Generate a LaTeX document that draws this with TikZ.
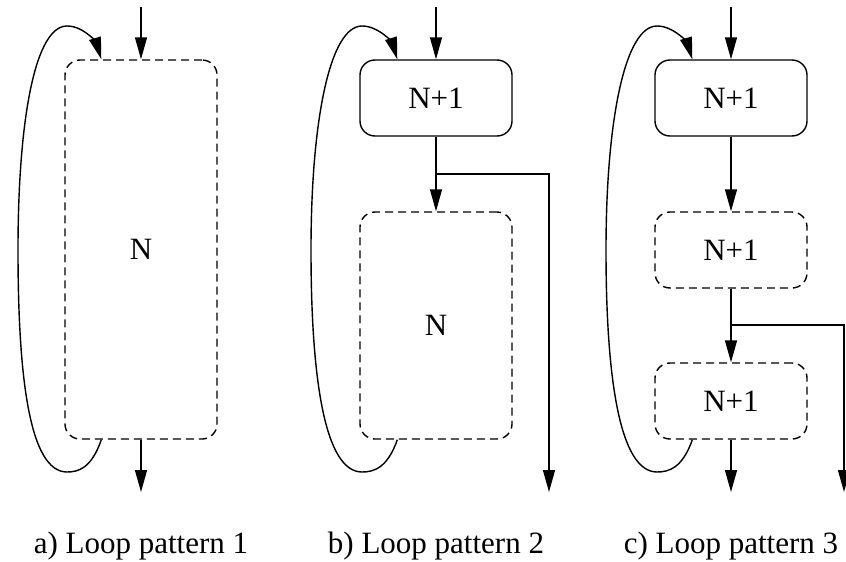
\documentclass[tikz,border=0pt]{standalone}
\usepackage{fontspec}
\setmainfont{Liberation Serif}
\usetikzlibrary{arrows.meta,calc}
\begin{document}
\begin{tikzpicture}[x=1pt,y=-1pt,
  line width=1.4pt,
  every node/.style={font=\fontsize{31}{36}\selectfont},
  solidbox/.style={draw,rounded corners=15pt,minimum width=152pt,minimum height=76pt,inner sep=0pt},
  dashbox/.style={draw,dash pattern=on 8pt off 5pt,rounded corners=15pt,minimum width=152pt,inner sep=0pt},
  arr/.style={-{Triangle[length=22pt,width=12pt]}},
  caption/.style={anchor=base}
]
\useasboundingbox (0,0) rectangle (846,562);

% ---------- a) ----------
\node[dashbox,minimum height=379pt] (aN) at (141,249.5) {N};
\coordinate (ain) at (141,7);
\coordinate (aout) at (141,492);
\draw[arr] (ain) -- (aN.north);
\draw[arr] (aN.south) -- (aout);
\draw[arr] ([xshift=37pt]aN.south west) .. controls +(-10,29) and (78,472) .. (67,472)
  .. controls (30,472) and (18,380) .. (18,250)
  .. controls (18,120) and (35,26) .. (67,26)
  .. controls (85,26) and (97,45) .. ([xshift=37pt]aN.north west);
\node[caption] (acap) at (141,553) {a) Loop pattern 1};

% ---------- b) ----------
\node[solidbox] (bT) at (436,98) {N+1};
\node[dashbox,minimum height=227pt] (bN) at (436,325.5) {N};
\coordinate (bin) at (436,7);
\coordinate (bbr) at (436,174);
\coordinate (bcorner) at (549,174);
\coordinate (bout) at (549,492);
\draw[arr] (bin) -- (bT.north);
\draw[arr] (bT.south) -- (bN.north);
\draw[arr] (bbr) -- (bcorner) -- (bout);
\draw[arr] ([xshift=38pt]bN.south west) .. controls +(-10,29) and (373,472) .. (362,472)
  .. controls (325,472) and (311,380) .. (311,250)
  .. controls (311,120) and (330,26) .. (362,26)
  .. controls (380,26) and (393,45) .. ([xshift=38pt]bT.north west);
\node[caption] (bcap) at (436,553) {b) Loop pattern 2};

% ---------- c) ----------
\node[solidbox] (cT) at (731,98) {N+1};
\node[dashbox,minimum height=76pt] (cA) at (731,250) {N+1};
\node[dashbox,minimum height=76pt] (cB) at (731,401) {N+1};
\coordinate (cin) at (731,7);
\coordinate (cbr) at (731,325);
\coordinate (ccorner) at (844,325);
\coordinate (cout) at (731,492);
\coordinate (cout2) at (844,492);
\draw[arr] (cin) -- (cT.north);
\draw[arr] (cT.south) -- (cA.north);
\draw[arr] (cA.south) -- (cB.north);
\draw[arr] (cB.south) -- (cout);
\draw[arr] (cbr) -- (ccorner) -- (cout2);
\draw[arr] ([xshift=38pt]cB.south west) .. controls +(-10,29) and (668,472) .. (657,472)
  .. controls (620,472) and (606,380) .. (606,250)
  .. controls (606,120) and (625,26) .. (657,26)
  .. controls (675,26) and (688,45) .. ([xshift=38pt]cT.north west);
\node[caption] (ccap) at (731,553) {c) Loop pattern 3};
\end{tikzpicture}
\end{document}
